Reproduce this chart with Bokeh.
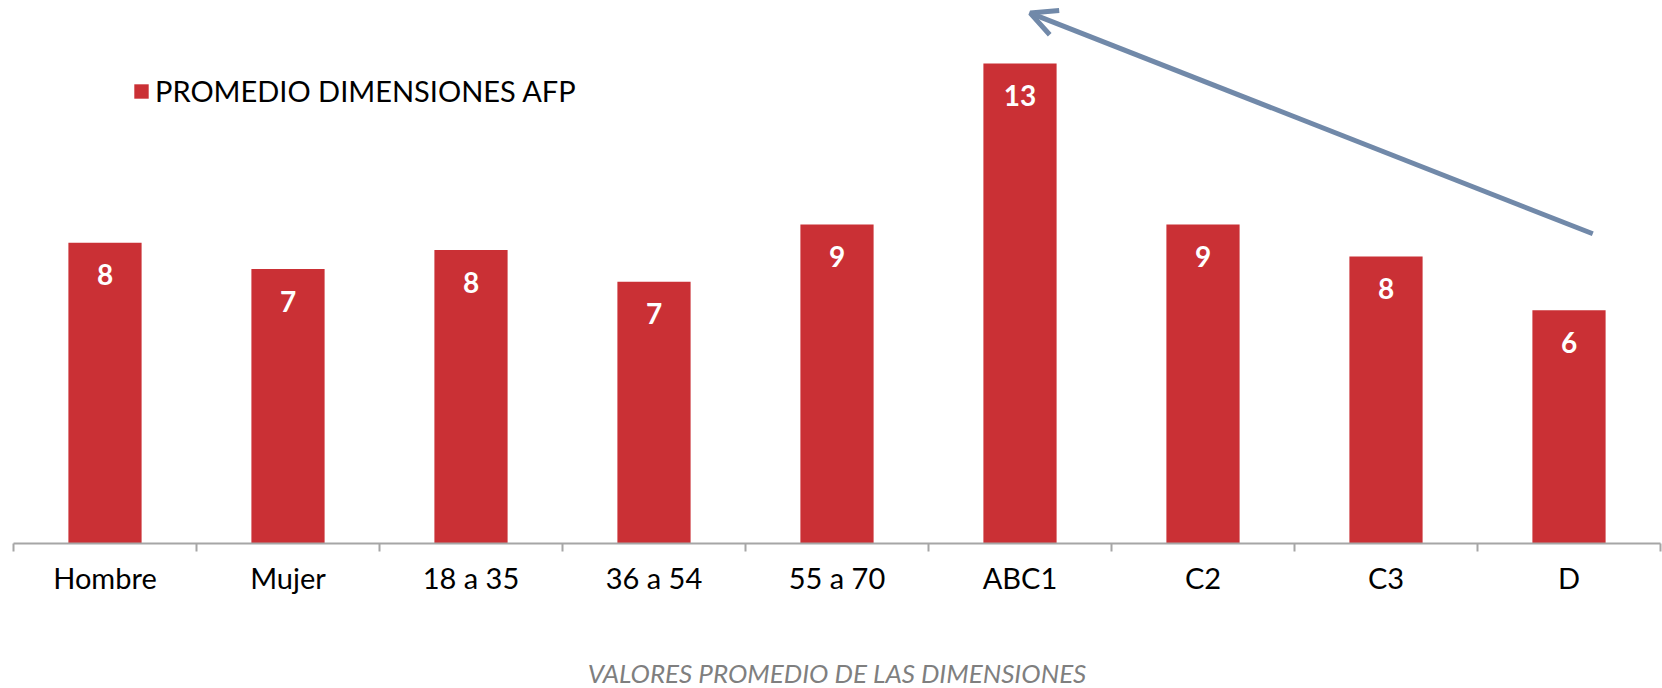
from bokeh.plotting import figure
from bokeh.models import (Range1d, FixedTicker, Legend, LegendItem, Arrow, OpenHead,
                          ColumnDataSource)
from bokeh.core.properties import value
from bokeh.embed import file_html
from bokeh.resources import INLINE

# ---- data ----
categories = ["Hombre", "Mujer", "18 a 35", "36 a 54", "55 a 70", "ABC1", "C2", "C3", "D"]
promedio = [8.11, 7.40, 7.91, 7.06, 8.60, 12.94, 8.60, 7.74, 6.29]
series_name = "PROMEDIO DIMENSIONES AFP"
axis_title = "VALORES PROMEDIO DE LAS DIMENSIONES"

# trend arrow (data coordinates: category index units, value units)
arrow_start = (8.63, 8.35)
arrow_end = (5.556, 14.3)

BAR_COLOR = "#CA3035"
ARROW_COLOR = "#7189A9"
AXIS_COLOR = "#A6A6A6"
FONT = "Lato"

xs = [i + 0.5 for i in range(len(categories))]
labels = [str(int(round(v))) for v in promedio]
src = ColumnDataSource(dict(x=xs, top=promedio, label=labels, cat=categories))

p = figure(frame_width=1647, frame_height=543,
           x_range=Range1d(0, len(categories)), y_range=Range1d(0, 14.64),
           y_axis_location=None, toolbar_location=None, output_backend="svg",
           min_border_left=13, min_border_right=2, min_border_top=0, min_border_bottom=0)
p.outline_line_color = None
p.xgrid.visible = False
p.ygrid.visible = False
p.background_fill_color = "white"
p.border_fill_color = "white"

bars = p.vbar(x="x", top="top", width=0.4, bottom=0, source=src,
              fill_color=BAR_COLOR, line_color=None)

p.text(x="x", y="top", text="label", source=src, text_color="white",
       text_font=value(FONT), text_font_style="bold", text_font_size="28px",
       text_align="center", text_baseline="middle", y_offset=32)

ax = p.xaxis[0]
ax.ticker = FixedTicker(ticks=xs, minor_ticks=list(range(len(categories) + 1)))
ax.major_label_overrides = {x: c for x, c in zip(xs, categories)}
ax.major_tick_out = 0
ax.major_tick_in = 0
ax.minor_tick_out = 8
ax.minor_tick_in = 0
ax.minor_tick_line_color = AXIS_COLOR
ax.minor_tick_line_width = 2
ax.axis_line_color = AXIS_COLOR
ax.axis_line_width = 2
ax.major_label_text_font = FONT
ax.major_label_text_font_size = "29px"
ax.major_label_text_color = "black"
ax.major_label_standoff = 8
ax.axis_label = axis_title
ax.axis_label_text_font = FONT
ax.axis_label_text_font_style = "italic"
ax.axis_label_text_font_size = "26px"
ax.axis_label_text_color = "#7F7F7F"
ax.axis_label_standoff = 59

arrow = Arrow(end=OpenHead(size=26, line_color=ARROW_COLOR, line_width=5),
              x_start=arrow_start[0], y_start=arrow_start[1],
              x_end=arrow_end[0], y_end=arrow_end[1],
              line_color=ARROW_COLOR, line_width=5)
p.add_layout(arrow)

legend = Legend(items=[LegendItem(label=series_name, renderers=[bars])],
                location=(119, 435), orientation="vertical",
                glyph_width=18, glyph_height=18, label_standoff=5,
                label_text_font=FONT, label_text_font_size="29px",
                label_text_color="black",
                label_height=30, padding=0, margin=0, spacing=0,
                border_line_color=None, background_fill_alpha=0)
p.add_layout(legend)

open("out.html", "w").write(file_html(p, INLINE))
